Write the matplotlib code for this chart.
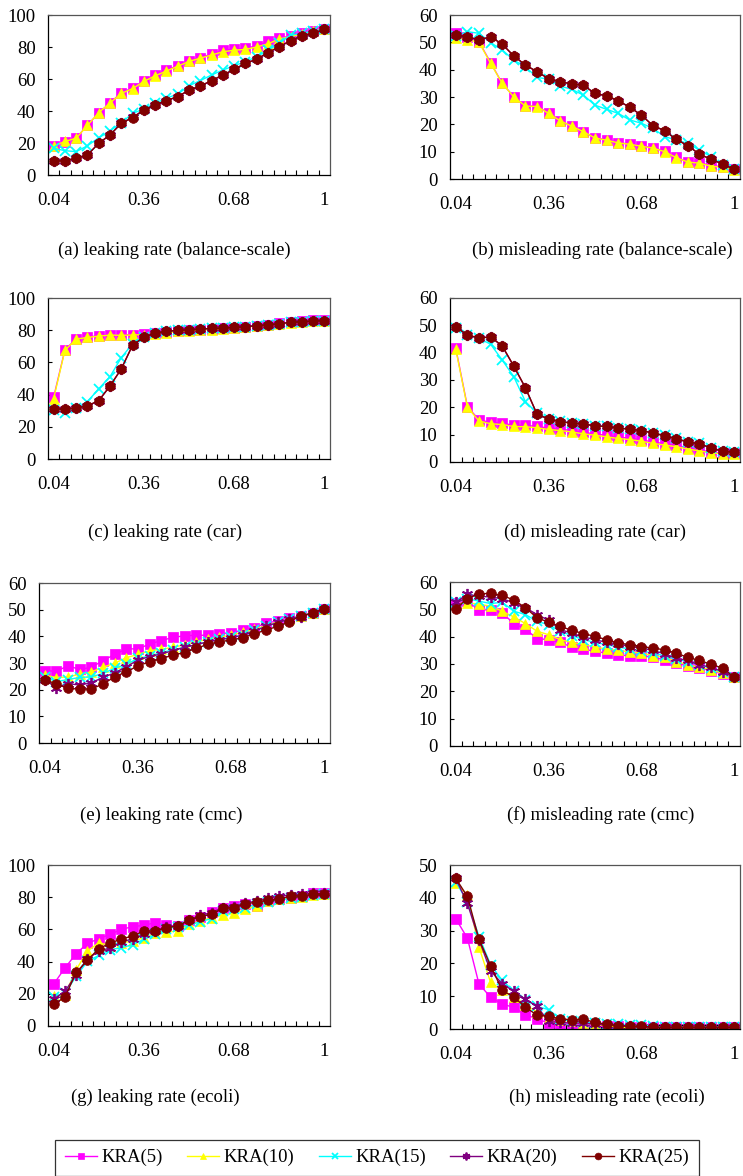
import numpy as np
import matplotlib
matplotlib.use('Agg')
import matplotlib.pyplot as plt

plt.rcParams['font.family'] = ['Liberation Serif', 'DejaVu Serif']

x_labels = ['0.04', '0.36', '0.68', '1']
series_names = ['KRA(5)', 'KRA(10)', 'KRA(15)', 'KRA(20)', 'KRA(25)']

# (a) leaking rate (balance-scale)
a_k5 = [18.3, 20.8, 23.3, 31, 39, 45, 51.5, 54.4, 58.8, 62.5, 65.6, 68.3, 71.5, 73.3, 75.6, 78, 78.5, 79.4, 80.6, 83.5, 85.4, 87, 88.5, 90, 91]
a_k10 = [18, 21, 23, 31, 39, 45, 51, 54, 58.5, 62, 65, 68, 71, 73, 75, 77, 78, 78.5, 80, 82, 85, 86.5, 88, 90, 91]
a_k15 = [16.7, 15.2, 14.6, 18.3, 23.3, 27.5, 32.7, 38.5, 41.3, 44.8, 48, 50.6, 55.8, 59, 62.5, 65.6, 68.3, 70.8, 74, 78, 82.3, 87.5, 88.5, 90, 91]
a_k20 = [9, 9, 10.5, 12.5, 20, 25, 32.5, 36, 40.8, 44, 46.5, 49, 53, 55.6, 59, 62.5, 66, 69.8, 72.3, 76.5, 80, 84, 87, 88.5, 91]
a_k25 = [8.8, 8.8, 10.4, 12.5, 19.8, 25, 32.3, 35.8, 40.6, 43.8, 46.5, 49, 53, 55.6, 59, 62.5, 66, 69.8, 72.3, 76.5, 80.2, 84, 86.9, 88.5, 91]

# (b) misleading rate (balance-scale)
b_k5 = [53.5, 51.8, 50.2, 42.6, 35, 30.1, 26.7, 26.7, 24, 21.3, 19.4, 17.3, 15.1, 14.3, 13.3, 12.8, 12.1, 11.5, 10.2, 7.9, 6.3, 6, 4.9, 4.5, 3.5]
b_k10 = [51.5, 51, 50, 42.3, 35, 30, 26.7, 26.5, 24, 21.3, 19.3, 17.3, 15, 14.2, 13.2, 12.7, 12, 11.3, 10, 7.8, 6.2, 5.8, 4.7, 4.3, 3.4]
b_k15 = [52.3, 53.9, 53.3, 49.9, 47.2, 43.5, 41, 37.2, 36.5, 34, 32.8, 30.7, 27, 25.5, 24, 21.6, 20.4, 18.5, 15.5, 14.3, 13, 10.6, 8.2, 5.1, 3.7]
b_k20 = [52.6, 52, 50.9, 52, 49.3, 45, 41.7, 39.2, 36.7, 35.6, 34.7, 34.3, 31.3, 30.4, 28.7, 26.2, 23.4, 19.5, 17.7, 14.5, 12.2, 9.1, 7.2, 5.5, 3.5]
b_k25 = [52.7, 52, 50.9, 52, 49.4, 45, 41.7, 39.3, 36.7, 35.6, 34.8, 34.3, 31.3, 30.4, 28.7, 26.2, 23.4, 19.5, 17.7, 14.5, 12.2, 9.1, 7.2, 5.5, 3.5]

# (c) leaking rate (car)
c_k5 = [38.4, 67.8, 74.7, 75.7, 76.6, 77.2, 77, 77.2, 77.8, 78.2, 78.8, 79.7, 79.9, 80.3, 80.7, 81.1, 81.5, 82.2, 82.8, 83.4, 84.2, 84.9, 85.5, 86.1, 86.1]
c_k10 = [37.5, 67.5, 74.5, 75.5, 76.3, 77, 76.8, 77, 77.3, 77.5, 78.2, 79.3, 79.6, 80, 80.4, 80.9, 81.3, 82, 82.6, 83.2, 84, 84.7, 85.3, 85.8, 85.9]
c_k15 = [30.5, 28.4, 31.5, 35.7, 43.6, 51.2, 63, 71.6, 76, 78.2, 79.3, 79.9, 80.3, 80.7, 81.1, 81.3, 81.7, 82.2, 82.8, 83.4, 84, 84.9, 85.3, 85.7, 85.9]
c_k20 = [31, 31, 31.6, 33, 36.2, 45.3, 56, 70.7, 75.7, 78.2, 79.3, 79.9, 80.3, 80.7, 81.1, 81.3, 81.7, 82.2, 82.8, 83.4, 84, 84.9, 85.3, 85.7, 85.9]
c_k25 = [31.1, 31.1, 31.7, 33, 36.3, 45.4, 56, 70.7, 75.7, 78.2, 79.3, 79.9, 80.3, 80.7, 81.1, 81.3, 81.7, 82.2, 82.8, 83.4, 84, 84.9, 85.3, 85.7, 85.9]

# (d) misleading rate (car)
d_k5 = [41.6, 20.3, 15.4, 14.5, 14.2, 13.4, 13.4, 13, 12.4, 12, 11.5, 10.8, 10.3, 9.7, 9.1, 8.7, 8.1, 7.3, 6.7, 6.1, 5.1, 4.5, 3.6, 3.3, 3.3]
d_k10 = [41.2, 20, 15, 14, 13.7, 13, 12.9, 12.5, 11.9, 11.5, 11, 10.3, 9.8, 9.2, 8.6, 8.2, 7.6, 6.8, 6.2, 5.6, 4.7, 4.1, 3.3, 3.0, 3.0]
d_k15 = [49.1, 46.4, 45.2, 43.1, 37.3, 31.2, 22.1, 17.9, 15.8, 14.9, 14.3, 14, 13.3, 13.1, 12.5, 12.1, 11.6, 10.7, 9.7, 8.7, 7.4, 6.8, 5.2, 4, 3.6]
d_k20 = [49.4, 46.4, 45.4, 45.7, 42.4, 35, 27.1, 17.5, 15.7, 14.8, 14.2, 13.9, 13.2, 13, 12.4, 12, 11.5, 10.6, 9.6, 8.5, 7.3, 6.7, 5.1, 3.9, 3.6]
d_k25 = [49.5, 46.4, 45.4, 45.8, 42.5, 35.1, 27.2, 17.5, 15.7, 14.8, 14.2, 13.9, 13.2, 13, 12.4, 12, 11.5, 10.6, 9.6, 8.5, 7.3, 6.7, 5.1, 3.9, 3.6]

# (e) leaking rate (cmc)
e_k5 = [27, 27, 28.9, 27.6, 28.4, 30.9, 33.2, 35.3, 35.3, 37.1, 38.4, 39.6, 40.2, 40.4, 40.4, 40.9, 41.4, 42.2, 43.3, 44.9, 45.8, 46.8, 47.7, 48.9, 50.4]
e_k10 = [25.5, 24.5, 24.8, 25.8, 26.7, 28.4, 29.9, 32, 33.2, 34.6, 35.1, 35.9, 36.8, 38, 38.9, 39.6, 40.5, 41.5, 42.7, 43.9, 45.5, 46.4, 47.7, 48.9, 50.4]
e_k15 = [24.8, 23, 23.8, 24.6, 24.8, 26.1, 28, 29.5, 31.7, 32.6, 33.9, 34.9, 35.9, 36.8, 38, 38.9, 39.6, 40.5, 42.2, 43.7, 45.2, 46.4, 47.7, 48.9, 50.4]
e_k20 = [23.6, 20.8, 22.3, 21.7, 22.6, 24.6, 26.3, 28.6, 31.1, 32.4, 33.4, 34.6, 35.9, 36.8, 38, 38.6, 39.5, 40.4, 42, 43.7, 45.2, 46.4, 47.4, 48.7, 50.4]
e_k25 = [23.8, 22.1, 20.5, 20.2, 20.3, 22.1, 24.8, 26.7, 28.9, 30.5, 31.6, 33, 33.9, 35.5, 37, 38, 38.6, 39.5, 40.9, 42.4, 43.7, 45.5, 47.7, 48.7, 50.4]

# (f) misleading rate (cmc)
f_k5 = [52.4, 53, 49.7, 49.9, 48.7, 44.8, 42.8, 39.3, 38.9, 37.9, 36.2, 35.5, 34.6, 34, 33.4, 33, 33.1, 32.5, 31.5, 30.3, 29.3, 28.5, 27.6, 26.4, 25.2]
f_k10 = [52, 52.4, 51.8, 51.2, 49.3, 47.2, 44.8, 42, 40.7, 38.9, 37.9, 37.1, 36.2, 35.5, 35, 34.4, 34, 33.1, 32.4, 30.9, 29.7, 28.8, 27.9, 26.6, 25.2]
f_k15 = [52.6, 53.9, 53, 52.1, 52.6, 49.3, 48.1, 45.6, 44.4, 42, 40.4, 38.9, 37.9, 37.1, 36.2, 35.5, 34.8, 34, 33, 31.8, 30.9, 29.7, 28.5, 26.9, 25.4]
f_k20 = [52.6, 55.5, 54.8, 54.5, 53.9, 52.4, 50.6, 48.1, 46, 42.6, 41.3, 39.9, 38.9, 37.9, 37.3, 36.4, 35.8, 35, 33.7, 32.1, 31.3, 29.7, 28.8, 27.2, 25.4]
f_k25 = [50.3, 53.9, 55.7, 55.8, 55.1, 53.4, 50.6, 46.9, 45.3, 43.8, 42.3, 41.1, 40.1, 38.9, 37.7, 37.1, 36.4, 35.8, 35.2, 34, 32.4, 31.3, 29.9, 28.5, 25.2]

# (g) leaking rate (ecoli)
g_k5 = [26, 36, 45, 51.3, 54.2, 56.9, 60, 61.7, 62.5, 64.2, 62.5, 62.1, 65.6, 67.9, 70.8, 73.5, 74.6, 75.6, 74.6, 77.7, 78.8, 79.4, 80.8, 82.3, 82.3]
g_k10 = [18.8, 19.4, 35, 46.5, 51.7, 50, 51.7, 52.7, 54.8, 57.5, 58.3, 59, 63.1, 65.2, 67.3, 68.8, 70, 72.5, 74.6, 77.7, 78.8, 79.6, 80.4, 81.5, 81.9]
g_k15 = [18.3, 20.4, 30.8, 40.2, 43.8, 47.5, 48.5, 50.6, 53.8, 56.9, 60.4, 61.7, 62.5, 64.8, 66.7, 71.5, 72.5, 73.5, 75.6, 77.1, 78.3, 79.2, 80.4, 81.5, 81.9]
g_k20 = [16.7, 21.5, 31.9, 41.7, 46.5, 48.5, 52.1, 54.2, 56.9, 59, 61.7, 62.1, 65.6, 68.8, 70.4, 73.5, 74.2, 76.3, 77.7, 79.2, 80.8, 81.3, 81.9, 82.3, 82.3]
g_k25 = [13.5, 17.9, 33.3, 40.8, 48.1, 51.3, 54.2, 55.8, 59, 59, 61, 62.1, 65.8, 67.9, 69.4, 73.1, 73.5, 75.6, 77.1, 78.1, 78.8, 80.8, 80.8, 81.7, 82.1]

# (h) misleading rate (ecoli)
h_k5 = [33.6, 27.7, 13.7, 9.7, 7.6, 6.6, 4.4, 3.1, 1.8, 1.5, 1.5, 1, 0.8, 0.8, 0.8, 0.6, 0.6, 0.5, 0.5, 0.5, 0.5, 0.5, 0.5, 0.5, 0.5]
h_k10 = [44.4, 40.9, 24.9, 14.2, 11.8, 9.9, 7.4, 5.1, 3.3, 2.8, 2.3, 1.8, 1.5, 1, 0.6, 0.3, 0.3, 0.5, 0.5, 0.5, 0.5, 0.5, 0.5, 0.5, 0.5]
h_k15 = [44.9, 38.8, 28.2, 19.6, 14.8, 11.5, 8.9, 6.9, 5.9, 3.1, 2.3, 2, 1.8, 1.5, 1.5, 1.3, 1.2, 0.8, 0.5, 0.5, 0.5, 0.5, 0.5, 0.5, 0.5]
h_k20 = [45.9, 38.3, 27.2, 17.7, 13.8, 11.5, 9.1, 6.9, 2.3, 2, 1.8, 1.8, 1.5, 1.3, 1, 0.8, 0.5, 0.5, 0.5, 0.5, 0.5, 0.5, 0.5, 0.5, 0.5]
h_k25 = [45.9, 40.4, 27.4, 19.3, 11.8, 9.7, 6.7, 4.2, 3.9, 3.1, 2.8, 3, 2, 1.5, 1, 0.8, 0.8, 0.6, 0.5, 0.5, 0.5, 0.5, 0.5, 0.5, 0.5]

panels = [
    ('(a) leaking rate (balance-scale)', [a_k5, a_k10, a_k15, a_k20, a_k25], 100, 20),
    ('(b) misleading rate (balance-scale)', [b_k5, b_k10, b_k15, b_k20, b_k25], 60, 10),
    ('(c) leaking rate (car)', [c_k5, c_k10, c_k15, c_k20, c_k25], 100, 20),
    ('(d) misleading rate (car)', [d_k5, d_k10, d_k15, d_k20, d_k25], 60, 10),
    ('(e) leaking rate (cmc)', [e_k5, e_k10, e_k15, e_k20, e_k25], 60, 10),
    ('(f) misleading rate (cmc)', [f_k5, f_k10, f_k15, f_k20, f_k25], 60, 10),
    ('(g) leaking rate (ecoli)', [g_k5, g_k10, g_k15, g_k20, g_k25], 100, 20),
    ('(h) misleading rate (ecoli)', [h_k5, h_k10, h_k15, h_k20, h_k25], 50, 10),
]

# axes boxes in pixels: left, top, right, bottom ; caption centre x, y
boxes = [
    (48, 15, 330, 175, 174, 250),
    (450, 15, 740, 179, 602, 250),
    (48, 298, 330, 459, 165, 532),
    (450, 298, 740, 462, 595, 532),
    (39, 583, 330, 743, 161, 815),
    (450, 582, 740, 746, 601, 815),
    (48, 865, 330, 1026, 155, 1097),
    (450, 865, 740, 1029, 607, 1097),
]

colors = ['#FF00FF', '#FFFF00', '#00FFFF', '#800080', '#800000']
markers = ['s', '^', 'x', (6, 2, 0), 'o']
msizes = [6.5, 7, 7, 8, 7]
FS = 13.5

W, H = 743, 1176
fig = plt.figure(figsize=(W / 100, H / 100), dpi=100)

n = len(a_k5)
xs = np.arange(n)
handles = []
for (title, data, ymax, ystep), (l, t, r, b, cx, cy) in zip(panels, boxes):
    ax = fig.add_axes([l / W, 1 - b / H, (r - l) / W, (b - t) / H])
    for i, ys in enumerate(data):
        h, = ax.plot(xs, ys, color=colors[i], marker=markers[i], ms=msizes[i],
                     lw=1, mew=1.3 if i in (2, 3) else 0.5,
                     mec=colors[i], label=series_names[i])
        if len(handles) < 5:
            handles.append(h)
    ax.set_xlim(-0.5, n - 0.5)
    ax.set_ylim(0, ymax)
    ax.set_xticks([0, 8, 16, 24])
    ax.set_xticklabels(x_labels)
    ax.set_xticks(np.arange(0.5, n - 1, 1), minor=True)
    ax.tick_params(axis='x', which='major', length=0, pad=12, labelsize=FS)
    ax.tick_params(axis='x', which='minor', direction='in', length=3.5, width=0.8)
    ax.set_yticks(np.arange(0, ymax + 1, ystep))
    ax.tick_params(axis='y', direction='in', length=3, width=0.8, pad=9, labelsize=FS)
    for s in ax.spines.values():
        s.set_linewidth(0.9)
    ax.spines['top'].set_color('#555555')
    ax.spines['right'].set_color('#555555')
    fig.text(cx / W, 1 - cy / H, title, ha='center', va='center', fontsize=FS)

leg = fig.legend(handles=handles, loc='lower center', ncol=5,
                 bbox_to_anchor=(377 / W, -9 / H), fontsize=FS,
                 frameon=True, fancybox=False, edgecolor='black',
                 handlelength=1.7, columnspacing=1.3, handletextpad=0.25,
                 borderpad=0.5, markerscale=0.7)
leg.get_frame().set_linewidth(0.9)

fig.savefig('out.png', dpi=100)
